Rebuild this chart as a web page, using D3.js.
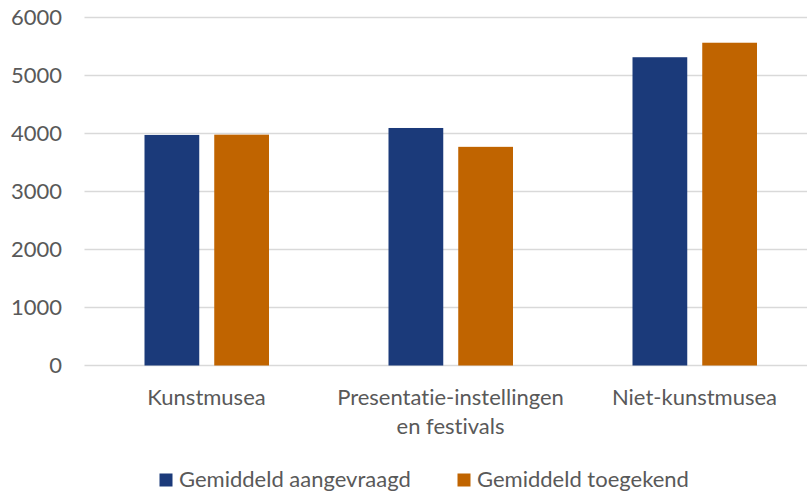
<!DOCTYPE html>
<html><head><meta charset="utf-8">
<script src="https://cdn.jsdelivr.net/npm/d3@7/dist/d3.min.js"></script>
<style>body{margin:0;background:#fff}svg{display:block}text{font-family:Lato,"Open Sans",sans-serif;fill:#595959;font-variant-ligatures:none;font-feature-settings:"liga" 0,"dlig" 0}</style>
</head><body><svg id="c" width="807" height="493"></svg>
<script>
const categories = [["Kunstmusea"], ["Presentatie-instellingen", "en festivals"], ["Niet-kunstmusea"]];
const catKeys = ["Kunstmusea", "Presentatie-instellingen en festivals", "Niet-kunstmusea"];
const seriesNames = ["Gemiddeld aangevraagd", "Gemiddeld toegekend"];
const aangevraagd = [3975, 4095, 5315];
const toegekend = [3980, 3770, 5565];
const yTicks = [0, 1000, 2000, 3000, 4000, 5000, 6000];
const colors = ["#1B3A7A", "#C06400"];

const svg = d3.select("#c");
const x0 = d3.scaleBand().domain(catKeys).range([84.5, 816.5]).padding(0);
const x1 = d3.scaleBand().domain(seriesNames).range([60, 184.5]).paddingInner(0.215).paddingOuter(0);
const y = d3.scaleLinear().domain([0, 6000]).range([365.5, 17.5]);
const FS = "22px";

const grid = svg.append("g");
grid.selectAll("line").data(yTicks).join("line")
  .attr("x1", 84.5).attr("x2", 807).attr("y1", d => y(d)).attr("y2", d => y(d))
  .attr("stroke", "#D9D9D9").attr("stroke-width", 1.3);

svg.append("g").selectAll("text").data(yTicks).join("text")
  .attr("x", 62).attr("y", d => y(d)).attr("dy", "0.36em").attr("text-anchor", "end")
  .style("font-size", FS).text(d => d);

const data = [aangevraagd, toegekend];
seriesNames.forEach((s, si) => {
  svg.append("g").selectAll("rect").data(catKeys).join("rect")
    .attr("x", c => x0(c) + x1(s)).attr("width", x1.bandwidth())
    .attr("y", (c, i) => y(data[si][i])).attr("height", (c, i) => y(0) - y(data[si][i]))
    .attr("fill", colors[si]);
});

const lab = svg.append("g");
catKeys.forEach((c, i) => {
  const t = lab.append("text").attr("text-anchor", "middle").style("font-size", FS);
  categories[i].forEach((line, li) => {
    t.append("tspan").attr("x", x0(c) + x0.bandwidth() / 2).attr("y", 405 + li * 29).text(line);
  });
});

const legendX = [159.5, 457.5];
seriesNames.forEach((s, si) => {
  svg.append("rect").attr("x", legendX[si]).attr("y", 473.5).attr("width", 13).attr("height", 13).attr("fill", colors[si]);
  svg.append("text").attr("x", legendX[si] + 19.5).attr("y", 487).style("font-size", FS).text(s);
});
</script></body></html>
